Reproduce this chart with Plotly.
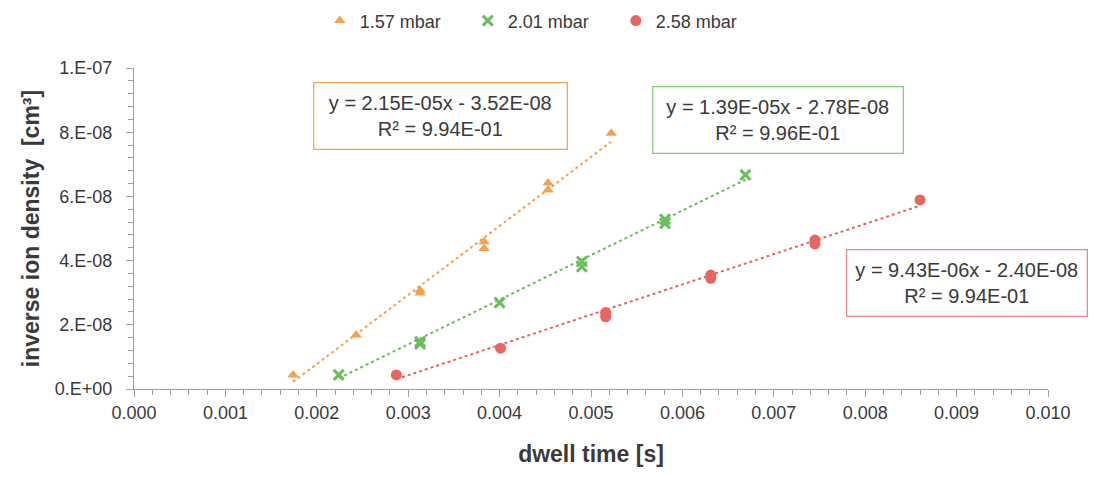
import plotly.graph_objects as go

# ---- data ----
series_names = ["1.57 mbar", "2.01 mbar", "2.58 mbar"]

x_157 = [0.00174, 0.00243, 0.00313, 0.00313, 0.00383, 0.00383, 0.00453, 0.00453, 0.00522]
y_157 = [4.4e-09, 16.8e-09, 30.8e-09, 29.9e-09, 45.9e-09, 43.8e-09, 64.2e-09, 62.0e-09, 79.7e-09]

x_201 = [0.00224, 0.00313, 0.00313, 0.00400, 0.00490, 0.00490, 0.00581, 0.00581, 0.00669]
y_201 = [4.4e-09, 14.7e-09, 14.0e-09, 26.9e-09, 39.7e-09, 38.1e-09, 52.9e-09, 51.6e-09, 66.7e-09]

x_258 = [0.00287, 0.00401, 0.00516, 0.00516, 0.00631, 0.00631, 0.00745, 0.00745, 0.00860]
y_258 = [4.4e-09, 12.7e-09, 23.8e-09, 22.5e-09, 35.5e-09, 34.5e-09, 46.4e-09, 45.2e-09, 58.9e-09]

# trendline coefficients (as printed on the chart)
slopes = [2.15e-05, 1.39e-05, 9.43e-06]
intercepts = [-3.52e-08, -2.78e-08, -2.40e-08]
r2_values = [9.94e-01, 9.96e-01, 9.94e-01]
eq_texts = [
    "y = 2.15E-05x - 3.52E-08<br>R² = 9.94E-01",
    "y = 1.39E-05x - 2.78E-08<br>R² = 9.96E-01",
    "y = 9.43E-06x - 2.40E-08<br>R² = 9.94E-01",
]

y_tickvals = [0, 2e-08, 4e-08, 6e-08, 8e-08, 1e-07]
y_ticktext = ["0.E+00", "2.E-08", "4.E-08", "6.E-08", "8.E-08", "1.E-07"]

# ---- styles ----
colors = ["#F9A04B", "#6ABF59", "#EB6560"]
box_colors = ["#F7A652", "#86D07A", "#EE8A88"]
symbols = ["triangle-up", "x-thin", "circle"]
sizes = [10, 10, 11]
text_color = "#3A3A3A"
axis_color = "#A0A0A0"
FONT = "Liberation Sans, Arial, sans-serif"

xs = [x_157, x_201, x_258]
ys = [y_157, y_201, y_258]

fig = go.Figure()

for i in range(3):
    x0, x1 = min(xs[i]), max(xs[i])
    fig.add_trace(go.Scatter(
        x=[x0, x1],
        y=[slopes[i] * x0 + intercepts[i], slopes[i] * x1 + intercepts[i]],
        mode="lines",
        line=dict(color=colors[i], width=2, dash="dot"),
        showlegend=False, hoverinfo="skip",
    ))

for i in range(3):
    mk = dict(symbol=symbols[i], size=sizes[i], color=colors[i], line=dict(width=0))
    if symbols[i] == "x-thin":
        mk["line"] = dict(width=3, color=colors[i])
    fig.add_trace(go.Scatter(
        x=xs[i], y=ys[i], mode="markers", name=series_names[i], marker=mk,
    ))

# annotation boxes (paper coords)
ann_pos = [(0.3353, 0.849), (0.7046, 0.8386), (0.911, 0.331)]
ann_w = [246, 243, 233]
for i in range(3):
    fig.add_annotation(
        x=ann_pos[i][0], y=ann_pos[i][1], xref="paper", yref="paper",
        xanchor="center", yanchor="middle",
        text=eq_texts[i], showarrow=False, align="center",
        font=dict(family=FONT, size=20, color=text_color),
        bordercolor=box_colors[i], borderwidth=1.3, borderpad=3,
        bgcolor="white", width=ann_w[i], height=59,
    )

fig.update_layout(
    width=1099, height=477,
    margin=dict(l=134, r=51, t=68, b=88),
    paper_bgcolor="white", plot_bgcolor="white",
    font=dict(family=FONT, color=text_color),
    legend=dict(
        orientation="h", xref="container", yref="container",
        x=0.493, xanchor="center", y=0.995, yanchor="top",
        font=dict(family=FONT, size=18, color=text_color),
        entrywidth=103, itemwidth=30,
    ),
    xaxis=dict(
        range=[0, 0.010], dtick=0.001, tick0=0, tickformat=".3f",
        showgrid=False, zeroline=False,
        showline=True, linecolor=axis_color, linewidth=1.3,
        ticks="outside", ticklen=7, tickcolor=axis_color,
        minor=dict(dtick=0.0002, ticks="outside", ticklen=5, tickcolor=axis_color, showgrid=False),
        tickfont=dict(family=FONT, size=18, color=text_color),
        title=dict(text="<b>dwell time [s]</b>", standoff=24,
                   font=dict(family=FONT, size=23, color=text_color)),
    ),
    yaxis=dict(
        range=[0, 1e-07], tickvals=y_tickvals, ticktext=y_ticktext,
        showgrid=False, zeroline=False,
        showline=True, linecolor=axis_color, linewidth=1.3,
        ticks="outside", ticklen=7, tickcolor=axis_color, ticklabelstandoff=10,
        minor=dict(dtick=4e-09, tick0=0, ticks="outside", ticklen=5, tickcolor=axis_color, showgrid=False),
        tickfont=dict(family=FONT, size=18, color=text_color),
        title=dict(text="<b>inverse ion density\u00a0\u00a0[cm³]</b>", standoff=8,
                   font=dict(family=FONT, size=23, color=text_color)),
    ),
)

fig.write_html("out.html")
